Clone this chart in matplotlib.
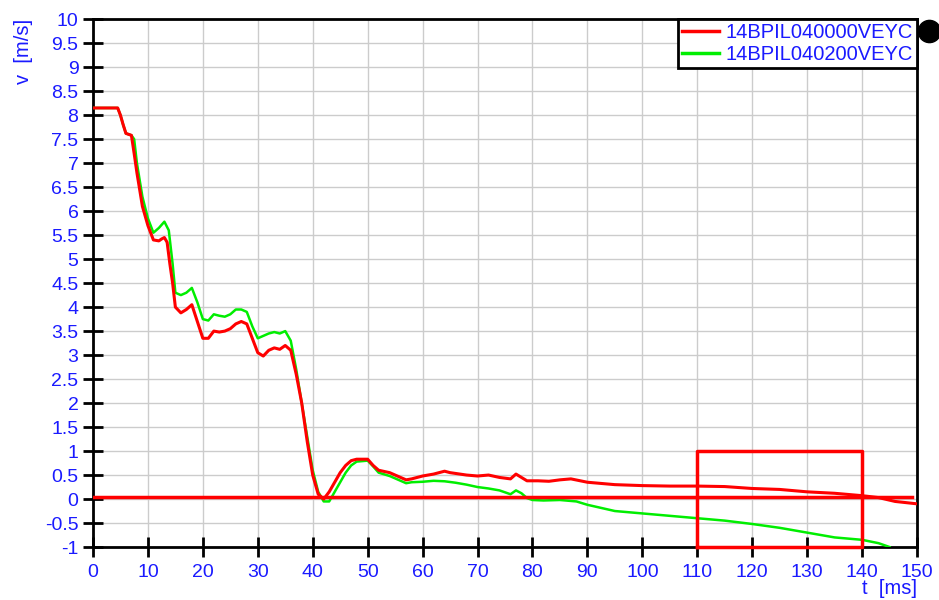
import matplotlib.pyplot as plt
import numpy as np

plt.rcParams['font.family'] = ['Liberation Sans', 'DejaVu Sans']

# red series: 14BPIL040000VEYC
t_red = [0, 4.5, 5.0, 5.5, 6, 6.5, 7, 7.5, 8, 9, 10, 11, 12, 12.5, 13, 13.5, 14, 14.5, 15,
         16, 17, 18, 19, 20, 21, 22, 23, 24, 25, 26, 27, 28, 29, 30, 31, 32, 33, 34, 35, 36,
         37, 38, 39, 40, 41, 42, 43, 44, 45, 46, 47, 48, 50, 51, 52, 54, 56, 57, 58, 60, 62,
         63, 64, 65, 68, 70, 72, 74, 76, 77, 78, 79, 81, 83, 85, 87, 90, 95, 100, 105, 110,
         115, 120, 125, 130, 135, 140, 143, 146, 150]
v_red = [8.15, 8.15, 8.0, 7.8, 7.62, 7.6, 7.58, 7.2, 6.8, 6.1, 5.7, 5.4, 5.38, 5.42, 5.45,
         5.35, 4.9, 4.5, 4.0, 3.88, 3.95, 4.05, 3.7, 3.35, 3.35, 3.5, 3.48, 3.5, 3.55, 3.65,
         3.7, 3.65, 3.35, 3.05, 2.98, 3.1, 3.15, 3.12, 3.2, 3.1, 2.6, 2.0, 1.2, 0.5, 0.1, 0.0,
         0.15, 0.35, 0.55, 0.7, 0.8, 0.83, 0.83, 0.7, 0.6, 0.55, 0.45, 0.4, 0.42, 0.48, 0.52,
         0.55, 0.58, 0.55, 0.5, 0.48, 0.5, 0.45, 0.42, 0.52, 0.45, 0.38, 0.38, 0.37, 0.4, 0.42,
         0.35, 0.3, 0.28, 0.27, 0.27, 0.26, 0.22, 0.2, 0.15, 0.12, 0.07, 0.03, -0.05, -0.1]

# green series: 14BPIL040200VEYC
t_grn = [0, 4.5, 5.0, 5.5, 6, 6.5, 7, 7.5, 8, 9, 10, 11, 12, 13, 13.8, 14.5, 15, 16, 17, 18,
         19, 20, 21, 22, 23, 24, 25, 26, 27, 28, 29, 30, 31, 32, 33, 34, 35, 36, 37, 38, 39,
         40, 41, 42, 43, 44, 45, 46, 47, 48, 50, 51, 52, 54, 56, 57, 58, 60, 62, 64, 66, 68,
         70, 72, 74, 76, 77, 78, 79, 80, 82, 85, 88, 90, 95, 100, 105, 110, 115, 120, 125,
         130, 135, 140, 143, 145]
v_grn = [8.15, 8.15, 8.0, 7.8, 7.62, 7.6, 7.58, 7.5, 7.0, 6.3, 5.85, 5.55, 5.65, 5.78, 5.6,
         4.9, 4.3, 4.25, 4.3, 4.4, 4.1, 3.75, 3.72, 3.85, 3.82, 3.8, 3.85, 3.95, 3.95, 3.9,
         3.6, 3.35, 3.4, 3.45, 3.48, 3.45, 3.5, 3.3, 2.7, 2.0, 1.3, 0.6, 0.15, -0.05, -0.05,
         0.15, 0.35, 0.55, 0.7, 0.78, 0.8, 0.68, 0.55, 0.48, 0.38, 0.33, 0.35, 0.36, 0.38, 0.37,
         0.34, 0.3, 0.25, 0.22, 0.18, 0.1, 0.18, 0.12, 0.02, -0.02, -0.03, -0.02, -0.05, -0.12,
         -0.25, -0.3, -0.35, -0.4, -0.45, -0.52, -0.6, -0.7, -0.8, -0.85, -0.92, -1.0]

# reference line and window box
ref_t = [0, 149]
ref_v = [0.04, 0.04]
box_t = [110, 140, 140, 110, 110]
box_v = [-1, -1, 1, 1, -1]

x_ticks = list(range(0, 151, 10))
y_ticks = [i * 0.5 for i in range(-2, 21)]

blue = '#1a1aff'

fig = plt.figure(figsize=(9.39, 6), dpi=100)
ax = fig.add_axes([0.099, 0.0883, 0.8776, 0.8797])

ax.plot(t_red, v_red, color='#ff0000', lw=2.2, label='14BPIL040000VEYC', zorder=4)
ax.plot(t_grn, v_grn, color='#00ee00', lw=1.8, label='14BPIL040200VEYC', zorder=3)
ax.plot(ref_t, ref_v, color='#ff0000', lw=2.5, zorder=4)
ax.plot(box_t, box_v, color='#ff0000', lw=2.5, zorder=5, clip_on=False)

ax.set_xlim(0, 150)
ax.set_ylim(-1, 10)
ax.set_xticks(x_ticks)
ax.set_yticks(y_ticks)
ax.set_yticklabels([('%g' % v) for v in y_ticks])
ax.grid(True, color='#cccccc', lw=1)
ax.set_axisbelow(True)

for s in ax.spines.values():
    s.set_linewidth(2)
    s.set_color('black')

ax.tick_params(axis='both', direction='inout', length=15, width=2, colors='black',
               labelcolor=blue, labelsize=14)
ax.tick_params(axis='y', pad=3)
ax.tick_params(axis='x', pad=5)

fig.text(0.025, 0.915, 'v  [m/s]', rotation=90, color=blue, fontsize=14.5, ha='center', va='center')
fig.text(0.9766, 0.003, 't  [ms]', color=blue, fontsize=14.5, ha='right', va='bottom')

leg = ax.legend(loc='upper right', bbox_to_anchor=(1.0, 1.0), fontsize=14.5, frameon=True,
                fancybox=False, borderpad=0.2, handlelength=1.8, handletextpad=0.35,
                labelspacing=0.15, borderaxespad=0, framealpha=1)
leg.get_frame().set_edgecolor('black')
leg.get_frame().set_linewidth(2)
for txt in leg.get_texts():
    txt.set_color(blue)
for ln in leg.get_lines():
    ln.set_linewidth(2.5)

# black dot marker outside the top right corner
ax.plot([1.0146], [0.977], 'o', color='black', ms=16, transform=ax.transAxes, clip_on=False)

fig.savefig('out.png', dpi=100)
